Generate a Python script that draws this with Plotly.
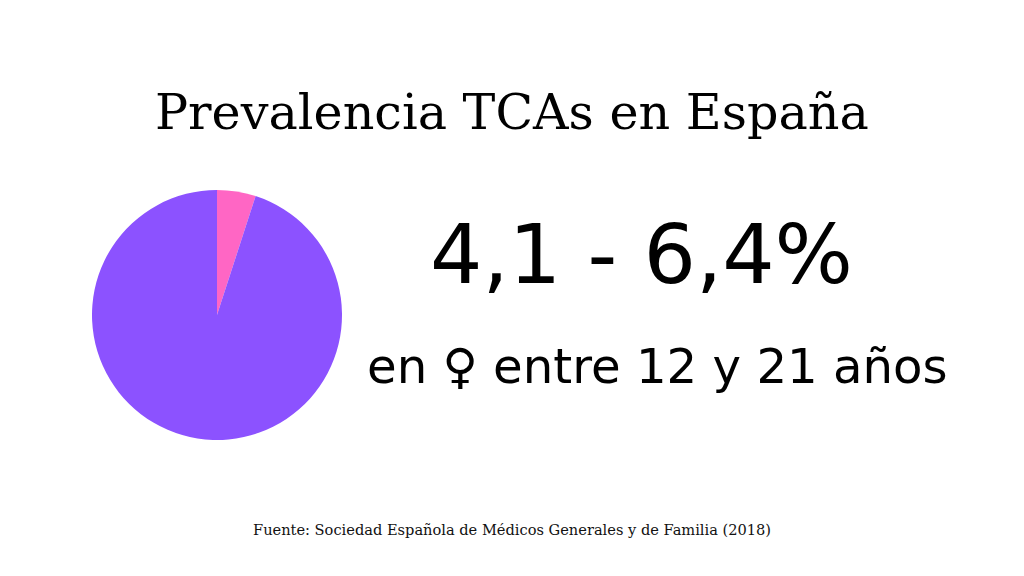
import plotly.graph_objects as go

# Datos
labels = ["TCAs", "Resto"]
values = [5, 95]
colors = ["#FF66C4", "#8C52FF"]

title_text = "Prevalencia TCAs en España"
range_text = "4,1 - 6,4%"
sub_text = "en ♀ entre 12 y 21 años"
source_text = "Fuente: Sociedad Española de Médicos Generales y de Familia (2018)"

W, H = 1024, 576


def px_x(v):
    return v / W


def px_y(v):
    return 1 - v / H


fig = go.Figure(go.Pie(
    labels=labels,
    values=values,
    marker=dict(colors=colors, line=dict(width=0)),
    sort=False,
    direction="clockwise",
    rotation=0,
    textinfo="none",
    hoverinfo="label+percent",
    showlegend=False,
    domain=dict(x=[px_x(84), px_x(334)], y=[px_y(432), px_y(182)]),
))

serif = "DejaVu Serif"
sans = "DejaVu Sans"

fig.add_annotation(text=title_text, x=px_x(503.5), y=px_y(104),
                   xref="paper", yref="paper", showarrow=False,
                   xanchor="center", yanchor="middle",
                   font=dict(family=serif, size=49.2, color="#000000"))
fig.add_annotation(text=range_text, x=px_x(633.5), y=px_y(246),
                   xref="paper", yref="paper", showarrow=False,
                   xanchor="center", yanchor="middle",
                   font=dict(family=sans, size=82.5, color="#000000"))
fig.add_annotation(text=sub_text, x=px_x(649.5), y=px_y(358),
                   xref="paper", yref="paper", showarrow=False,
                   xanchor="center", yanchor="middle",
                   font=dict(family=sans, size=48.2, color="#000000"))
fig.add_annotation(text=source_text, x=px_x(504), y=px_y(521),
                   xref="paper", yref="paper", showarrow=False,
                   xanchor="center", yanchor="middle",
                   font=dict(family=serif, size=14.6, color="#111111"))

fig.update_layout(
    width=W, height=H,
    margin=dict(l=0, r=0, t=0, b=0),
    paper_bgcolor="white",
    plot_bgcolor="white",
)

fig.write_html("out.html")
